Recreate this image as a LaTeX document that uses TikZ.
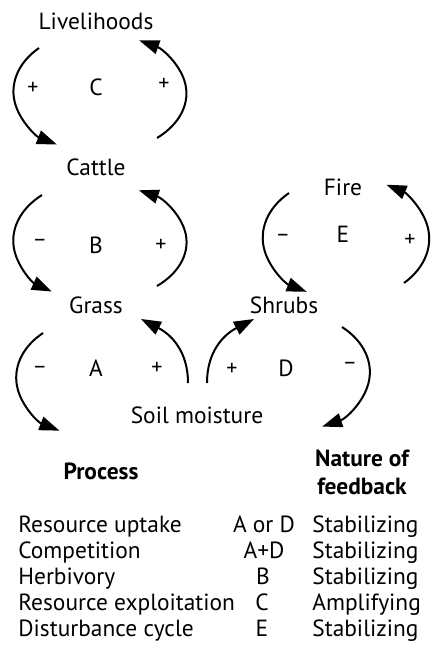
\documentclass[tikz,border=0pt]{standalone}
\usepackage{fontspec}
\setmainfont{PT Sans}
\usetikzlibrary{arrows.meta}
\begin{document}
\begin{tikzpicture}[x=0.5pt,y=-0.5pt,
  fb/.style={line width=1pt,-{Triangle[length=10pt,width=7pt]}},
  lbl/.style={font=\fontsize{11.7}{13}\selectfont,inner sep=0pt,anchor=base},
  sgn/.style={font=\fontsize{11}{12}\selectfont,inner sep=0pt},
  row/.style={font=\fontsize{11.7}{13}\selectfont,inner sep=0pt,anchor=base west},
  hdr/.style={font=\fontsize{11.7}{14}\selectfont\bfseries,inner sep=0pt,anchor=base,align=center}]
\useasboundingbox (0,0) rectangle (430,650);

% Variables
\node[lbl] (livelihoods) at (96,29) {Livelihoods};
\node[lbl] (cattle) at (96,175) {Cattle};
\node[lbl] (grass) at (96,313) {Grass};
\node[lbl] (shrubs) at (284,313) {Shrubs};
\node[lbl] (fire) at (343,195) {Fire};
\node[lbl] (soil) at (197,423) {Soil moisture};

% Loop letters
\node[lbl] (loopC) at (96,95) {C};
\node[lbl] (loopB) at (96,253) {B};
\node[lbl] (loopA) at (96,376) {A};
\node[lbl] (loopD) at (286,376) {D};
\node[lbl] (loopE) at (343,242) {E};

% Signs
\node[sgn] (signC1) at (33,88) {+};
\node[sgn] (signC2) at (164,84) {+};
\node[sgn] (signB1) at (40,243) {--};
\node[sgn] (signB2) at (161,245) {+};
\node[sgn] (signA1) at (40,370) {--};
\node[sgn] (signA2) at (157,368) {+};
\node[sgn] (signD1) at (232,369) {+};
\node[sgn] (signD2) at (350,366) {--};
\node[sgn] (signE1) at (283,238) {--};
\node[sgn] (signE2) at (410,240) {+};

% Arc starts
\coordinate (c1) at (39,48);
\coordinate (c2) at (157,138);
\coordinate (b1) at (42,195);
\coordinate (b2) at (157,286);
\coordinate (a1) at (43,333);
\coordinate (a2) at (188,383);
\coordinate (d1) at (207,383);
\coordinate (d2) at (342,327);
\coordinate (e1) at (289,193);
\coordinate (e2) at (404,283);

% Loop C
\draw[fb] (c1) arc[start angle=226.5,end angle=118,x radius=82,y radius=60];
\draw[fb] (c2) arc[start angle=48,end angle=-62,x radius=89,y radius=60];
% Loop B
\draw[fb] (b1) arc[start angle=229.5,end angle=122,x radius=82,y radius=60];
\draw[fb] (b2) arc[start angle=49,end angle=-63.6,x radius=86,y radius=58];
% Loop A
\draw[fb] (a1) arc[start angle=228,end angle=117.8,x radius=81,y radius=60];
\draw[fb] (a2) .. controls (188,352) and (172,335) .. (141,319);
% Loop D
\draw[fb] (d1) .. controls (207,352) and (223,335) .. (254,319);
\draw[fb] (d2) arc[start angle=-48.7,end angle=65.3,x radius=82,y radius=60];
% Loop E
\draw[fb] (e1) arc[start angle=227.2,end angle=117.6,x radius=82,y radius=61];
\draw[fb] (e2) arc[start angle=45.6,end angle=-60.6,x radius=84,y radius=62];

% Table
\node[hdr] (hprocess) at (101,479) {Process};
\node[hdr] (hnature) at (362,494) {Nature of\\feedback};

\node[row] (p1) at (18,532) {Resource uptake};
\node[row] (p2) at (18,558) {Competition};
\node[row] (p3) at (18,584) {Herbivory};
\node[row] (p4) at (18,610) {Resource exploitation};
\node[row] (p5) at (18,636) {Disturbance cycle};

\node[lbl] (l1) at (264,532) {A or D};
\node[lbl] (l2) at (264,558) {A+D};
\node[lbl] (l3) at (263,584) {B};
\node[lbl] (l4) at (262,610) {C};
\node[lbl] (l5) at (262,636) {E};

\node[row] (n1) at (312,532) {Stabilizing};
\node[row] (n2) at (312,558) {Stabilizing};
\node[row] (n3) at (312,584) {Stabilizing};
\node[row] (n4) at (312,610) {Amplifying};
\node[row] (n5) at (312,636) {Stabilizing};
\end{tikzpicture}
\end{document}
